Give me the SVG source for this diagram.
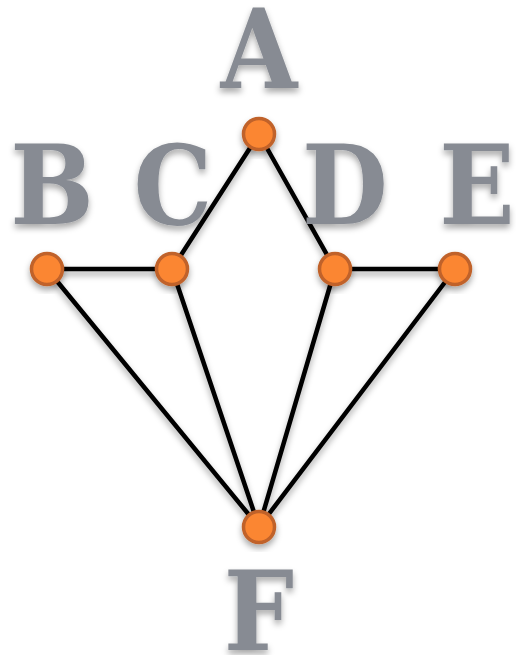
<svg xmlns="http://www.w3.org/2000/svg" width="516" height="655" viewBox="0 0 516 655">
<style>
.lbl{font-family:'DejaVu Serif Condensed','DejaVu Serif',serif;font-stretch:condensed;font-weight:700;font-size:110px;fill:#878b93;text-anchor:middle}
.node{fill:#fb8632;stroke:#c0622a;stroke-width:3.5}
.edge{stroke:#000;stroke-width:4.5;fill:none;stroke-linecap:round}
</style>
<defs>
<filter id="sh" x="-30%" y="-30%" width="160%" height="160%">
<feDropShadow dx="0" dy="4" stdDeviation="3" flood-color="#000" flood-opacity="0.35"/>
</filter>
</defs>
<g id="connectors" filter="url(#sh)">
<line class="edge" x1="259" y1="134" x2="172" y2="269"/>
<line class="edge" x1="259" y1="134" x2="335" y2="269"/>
<line class="edge" x1="47" y1="269" x2="172" y2="269"/>
<line class="edge" x1="335" y1="269" x2="455" y2="269"/>
<line class="edge" x1="47" y1="269" x2="259" y2="527"/>
<line class="edge" x1="172" y1="269" x2="259" y2="527"/>
<line class="edge" x1="335" y1="269" x2="259" y2="527"/>
<line class="edge" x1="455" y1="269" x2="259" y2="527"/>
</g>
<g id="A"><text class="lbl" x="259" y="88" filter="url(#sh)">A</text><circle class="node" cx="259" cy="134" r="15.5" filter="url(#sh)"/></g>
<g id="B"><text class="lbl" x="52" y="224" filter="url(#sh)">B</text><circle class="node" cx="47" cy="269" r="15.5" filter="url(#sh)"/></g>
<g id="C"><text class="lbl" x="173" y="224" filter="url(#sh)">C</text><circle class="node" cx="172" cy="269" r="15.5" filter="url(#sh)"/></g>
<g id="D"><text class="lbl" x="345" y="224" filter="url(#sh)">D</text><circle class="node" cx="335" cy="269" r="15.5" filter="url(#sh)"/></g>
<g id="E"><text class="lbl" x="477" y="224" filter="url(#sh)">E</text><circle class="node" cx="455" cy="269" r="15.5" filter="url(#sh)"/></g>
<g id="F"><text class="lbl" x="259" y="650" filter="url(#sh)">F</text><circle class="node" cx="259" cy="527" r="15.5" filter="url(#sh)"/></g>
</svg>
